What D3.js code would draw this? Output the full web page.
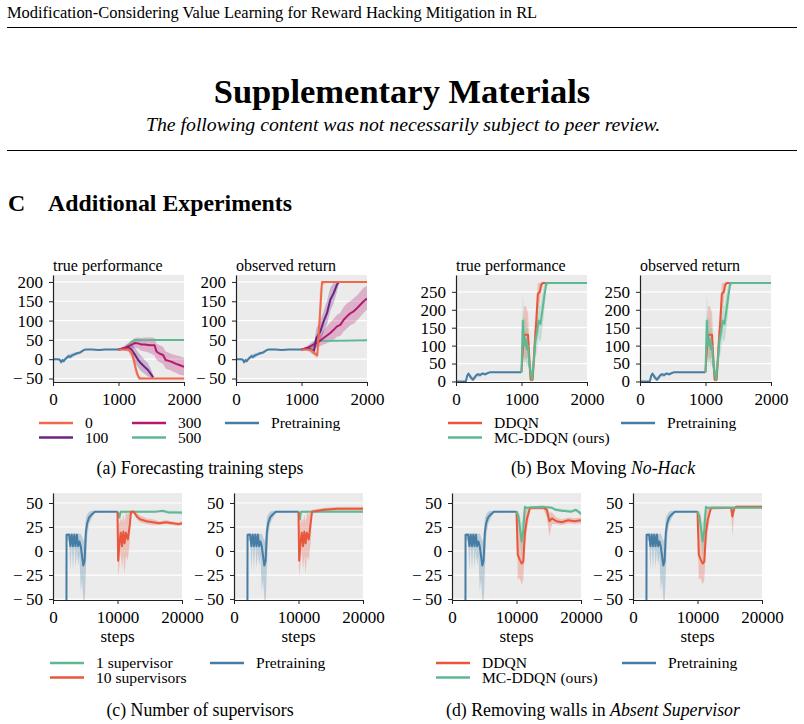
<!DOCTYPE html>
<html>
<head>
<meta charset="utf-8">
<script src="https://cdn.jsdelivr.net/npm/d3@7"></script>
<style>
  body { margin: 0; background: #fff; }
  svg { font-family: 'Liberation Serif', 'Times New Roman', serif; }
</style>
</head>
<body>
<svg id="fig" width="804" height="724"></svg>
<script>
// each point: [step, mean, lower, upper]

// (a) forecasting training steps
const aPretrain = [[0,0,-1,1],[60,0,-1,1],[100,-1,-4,2],[125,-8,-12,-3],[145,-2,-6,3],[165,-5,-9,0],[185,0,-4,5],[210,4,-1,9],[235,8,2,14],[260,6,0,12],[290,10,4,16],[320,12,7,17],[350,14,10,18],[380,16,12,20],[410,17,13,21],[440,20,17,24],[470,24,22,26],[500,25,24,26],[600,25,24,26],[700,24,23,25],[800,25,24,26],[900,25,24,26],[1000,25,24,26]]
const aTrue0 = [[1000,25,25,25],[1100,25,22,28],[1150,26,20,32],[1200,18,5,30],[1230,0,-15,15],[1260,-22,-38,-6],[1290,-40,-50,-28],[1320,-50,-52,-44],[1400,-50,-51,-49],[2000,-50,-50,-50]]
const aTrue100 = [[1000,25,25,25],[1100,27,22,32],[1150,30,20,40],[1200,24,8,38],[1250,12,-8,30],[1300,-2,-22,18],[1350,-12,-32,8],[1400,-20,-38,-2],[1450,-28,-45,-10],[1500,-40,-50,-28],[1530,-47,-50,-40]]
const aTrue300 = [[1000,25,25,25],[1100,30,24,36],[1200,37,26,48],[1250,42,30,54],[1300,41,28,56],[1350,38,22,55],[1400,38,20,56],[1450,37,18,56],[1500,36,14,56],[1550,36,10,55],[1580,20,-2,40],[1630,14,-8,36],[1680,11,-12,32],[1720,-2,-24,20],[1780,-5,-28,16],[1830,-8,-32,12],[1880,-12,-36,10],[1930,-15,-40,8],[2000,-20,-42,4]]
const aTrue500 = [[1000,25,25,25],[1100,28,25,32],[1150,35,30,40],[1200,45,41,49],[1250,50,48,52],[1400,49,48,50],[1500,50,50,50],[2000,50,50,50]]
const aObs0 = [[1000,25,25,25],[1100,25,22,28],[1150,24,18,30],[1200,15,8,22],[1240,10,2,18],[1280,110,40,180],[1313,200,190,200],[1400,200,200,200],[2000,200,200,200]]
const aObs100 = [[1000,25,25,25],[1100,28,22,34],[1190,22,10,35],[1226,55,30,80],[1288,72,45,100],[1338,98,70,125],[1389,119,90,150],[1440,154,125,185],[1491,171,145,198],[1542,193,175,200],[1565,198,190,200]]
const aObs300 = [[1000,25,25,25],[1100,30,24,36],[1200,40,30,50],[1240,42,30,55],[1338,55,38,75],[1440,68,45,95],[1491,76,50,105],[1542,85,58,115],[1593,89,60,120],[1644,102,72,135],[1695,111,80,145],[1746,119,88,150],[1797,124,92,158],[1847,132,100,165],[1898,141,110,175],[1949,150,120,185],[2000,157,128,190]]
const aObs500 = [[1000,25,25,25],[1084,26,23,29],[1160,33,28,38],[1211,46,42,50],[1300,48,47,49],[1500,48,47,49],[2000,49,48,50]]

// (b) box moving no-hack
const bPretrain = [[0,0,0,0],[150,0,-1,2],[170,15,8,20],[190,22,16,26],[230,10,4,18],[260,5,0,12],[300,15,8,20],[330,20,14,24],[370,18,12,22],[400,22,18,25],[450,20,16,24],[480,23,20,26],[520,26,25,27],[600,26,26,26],[1000,26,26,26]]
const bDdqn = [[1000,26,26,26],[1020,90,50,140],[1040,130,70,210],[1070,130,60,210],[1100,130,70,190],[1120,60,20,110],[1140,5,0,30],[1170,5,0,40],[1200,100,50,150],[1230,180,130,230],[1250,245,200,275],[1280,250,220,275],[1300,270,250,278],[1330,275,270,278],[1400,275,275,275],[2000,275,275,275]]
const bMcDdqn = [[1000,26,26,26],[1020,170,100,250],[1040,100,40,170],[1060,120,60,180],[1080,90,40,150],[1100,100,50,150],[1120,50,10,100],[1140,20,0,60],[1160,5,0,30],[1190,60,20,110],[1210,110,60,160],[1240,140,90,190],[1260,170,120,215],[1290,160,110,210],[1320,200,150,250],[1350,240,200,270],[1380,275,265,278],[1450,275,275,275],[2000,275,275,275]]

// (c) and (d) share the pretraining curve
const cdPretrain = [[2060,-200,-200,-200],[2100,17,12,18],[2500,17,10,19],[2700,5,-20,18],[2900,17,5,19],[3100,5,-20,18],[3300,17,5,19],[3500,5,-18,18],[3700,17,0,19],[3900,5,-15,18],[4100,10,-5,18],[4300,5,-42,18],[4500,-5,-30,15],[4700,-15,-50,10],[4900,-10,-55,15],[5100,20,-20,35],[5300,29,15,38],[5600,35,28,41],[6000,38,34,42],[6500,41,40,42],[10000,41,41,41]]
const cOneLeft = [[10000,41,41,41],[10300,35,32,40],[10500,41,39,42],[12000,41,40,42],[14000,41,40,42],[16000,41,40,42],[17000,42,40,43],[18000,40,39,42],[19000,40,39,42],[20000,40,38,41]]
const cTenLeft = [[10000,41,41,41],[10100,-10,-27,25],[10300,8,-15,30],[10500,19,0,35],[10700,5,-20,30],[10900,20,-5,38],[11100,8,-25,30],[11300,19,-5,40],[11600,12,-10,38],[11900,27,10,41],[12100,41,38,42],[12500,41,39,42],[13000,36,33,40],[13500,33,30,37],[14500,31,28,34],[15500,30,27,33],[16500,29,27,31],[17500,30,28,32],[18500,29,27,31],[19500,28,26,30],[20000,29,27,31]]
const cOneRight = [[10000,41,41,41],[10200,33,30,38],[10400,41,40,42],[12000,41,40,42],[20000,41,40,42]]
const cTenRight = [[10000,41,41,41],[10100,-10,-27,25],[10300,8,-15,30],[10500,19,0,35],[10700,5,-20,30],[10900,20,-5,38],[11100,8,-25,30],[11300,19,-5,40],[11600,12,-10,38],[11900,30,10,41],[12100,41,39,43],[13000,42,40,44],[14000,43,41,45],[16000,44,42,46],[18000,44,42,46],[20000,44,42,46]]
const dDdqnLeft = [[10000,41,41,41],[10200,-4,-30,30],[10500,-9,-28,25],[10800,-13,-35,15],[11050,-11,-30,20],[11300,19,0,40],[11600,33,20,45],[12100,45,43,46],[14200,45,43,46],[14700,43,35,46],[15100,31,15,40],[15500,34,28,40],[16200,31,28,35],[17000,30,27,33],[18000,32,29,35],[19000,31,28,34],[20000,32,29,35]]
const dMcLeft = [[10000,41,41,41],[10300,36,30,42],[10500,26,15,38],[10800,10,-5,28],[11050,22,5,40],[11300,46,42,47],[11600,45,44,46],[14000,46,45,47],[15500,45,44,46],[16000,43,42,45],[17000,42,41,44],[18500,41,40,43],[19200,43,41,44],[19800,40,38,42],[20000,38,36,41]]
const dDdqnRight = [[10000,41,41,41],[10200,-4,-30,30],[10500,-9,-28,25],[10800,-13,-35,15],[11050,-11,-30,20],[11300,19,0,40],[11600,33,20,45],[12100,45,43,46],[15200,45,44,46],[15400,36,15,46],[15700,45,40,46],[16000,46,45,47],[20000,46,45,47]]
const dMcRight = [[10000,41,41,41],[10300,36,30,42],[10500,26,15,38],[10800,10,-5,28],[11050,22,5,40],[11300,46,42,47],[11600,45,44,46],[20000,45,44,46]]

const ticksShort = [0, 1000, 2000]
const ticksLong = [0, 10000, 20000]
const ticksA = [-50, 0, 50, 100, 150, 200]
const ticksB = [0, 50, 100, 150, 200, 250]
const ticksCD = [-50, -25, 0, 25, 50]

const colors = {
  pre: '#467da5',
  red: '#e8573c',
  green: '#5eb892',
  s0: '#f0694b',
  s100: '#6e2382',
  s300: '#b4196e',
  s500: '#5eb892'
}

const svg = d3.select('#fig')
let clipCount = 0

// wide TeX-like minus sign
const tickFmt = d => (d < 0 ? '\u2212\u2009' + Math.abs(d) : String(d))

function drawPanel(p) {
  const x = d3.scaleLinear().domain(p.xDomain).range([p.left, p.right])
  const y = d3.scaleLinear().domain(p.yDomain).range([p.bottom, p.top])
  const clipId = 'clip' + clipCount++

  svg.append('clipPath').attr('id', clipId)
    .append('rect')
    .attr('x', p.left).attr('y', p.top)
    .attr('width', p.right - p.left).attr('height', p.bottom - p.top)

  svg.append('rect')
    .attr('x', p.left).attr('y', p.top)
    .attr('width', p.right - p.left).attr('height', p.bottom - p.top)
    .attr('fill', '#ebebeb')

  svg.append('g')
    .selectAll('line')
    .data(p.yTicks)
    .enter()
    .append('line')
    .attr('x1', p.left).attr('x2', p.right)
    .attr('y1', d => y(d)).attr('y2', d => y(d))
    .attr('stroke', '#fff').attr('stroke-width', 1.2)

  const plot = svg.append('g').attr('clip-path', `url(#${clipId})`)

  const area = d3.area().x(d => x(d[0])).y0(d => y(d[2])).y1(d => y(d[3]))
  const line = d3.line().x(d => x(d[0])).y(d => y(d[1]))

  plot.selectAll('.band')
    .data(p.series)
    .enter()
    .append('path')
    .attr('class', 'band')
    .attr('d', d => area(d.values))
    .attr('fill', d => d.color)
    .attr('opacity', 0.28)

  plot.selectAll('.line')
    .data(p.series)
    .enter()
    .append('path')
    .attr('class', 'line')
    .attr('d', d => line(d.values))
    .attr('fill', 'none')
    .attr('stroke', d => d.color)
    .attr('stroke-width', 2)
    .attr('stroke-linejoin', 'round')

  const yAxis = svg.append('g')
    .attr('transform', `translate(${p.left},0)`)
    .call(d3.axisLeft(y).tickValues(p.yTicks).tickSize(4).tickSizeOuter(0).tickPadding(6).tickFormat(tickFmt))
  const xAxis = svg.append('g')
    .attr('transform', `translate(0,${p.bottom})`)
    .call(d3.axisBottom(x).tickValues(p.xTicks).tickSize(4).tickSizeOuter(0).tickPadding(7).tickFormat(tickFmt))

  ;[yAxis, xAxis].forEach(ax => {
    ax.attr('font-family', null).attr('font-size', 17)
    ax.selectAll('text').attr('fill', '#000')
    ax.selectAll('line').attr('stroke', '#222')
    ax.select('.domain').attr('stroke', '#222').attr('stroke-width', 1.2)
  })

  if (p.title) {
    svg.append('text')
      .attr('x', p.left).attr('y', p.top - 4)
      .attr('font-size', 16)
      .text(p.title)
  }
  if (p.xLabel) {
    svg.append('text')
      .attr('x', (p.left + p.right) / 2).attr('y', p.bottom + 42)
      .attr('text-anchor', 'middle')
      .attr('font-size', 17)
      .text(p.xLabel)
  }
}

function drawLegend(items) {
  const g = svg.append('g')
  items.forEach(it => {
    g.append('line')
      .attr('x1', it.x).attr('x2', it.x + 34)
      .attr('y1', it.y).attr('y2', it.y)
      .attr('stroke', it.color).attr('stroke-width', 2.4)
    g.append('text')
      .attr('x', it.x + 46).attr('y', it.y + 5)
      .attr('font-size', 15.6)
      .text(it.label)
  })
}

function caption(cx, cy, plain, italic) {
  const t = svg.append('text')
    .attr('x', cx).attr('y', cy)
    .attr('text-anchor', 'middle')
    .attr('font-size', 17.8)
  t.append('tspan').text(plain)
  if (italic) t.append('tspan').attr('font-style', 'italic').text(italic)
}

// page header
svg.append('text').attr('x', 7).attr('y', 18).attr('font-size', 16.45)
  .text('Modification-Considering Value Learning for Reward Hacking Mitigation in RL')
svg.append('line').attr('x1', 7).attr('x2', 797).attr('y1', 27.5).attr('y2', 27.5).attr('stroke', '#000')
svg.append('text').attr('x', 402).attr('y', 103).attr('text-anchor', 'middle')
  .attr('font-size', 34.5).attr('font-weight', 'bold').text('Supplementary Materials')
svg.append('text').attr('x', 403).attr('y', 131).attr('text-anchor', 'middle')
  .attr('font-size', 19.8).attr('font-style', 'italic')
  .text('The following content was not necessarily subject to peer review.')
svg.append('line').attr('x1', 7).attr('x2', 797).attr('y1', 150.5).attr('y2', 150.5).attr('stroke', '#000')
svg.append('text').attr('x', 8).attr('y', 211).attr('font-size', 23.8).attr('font-weight', 'bold').text('C')
svg.append('text').attr('x', 48).attr('y', 211).attr('font-size', 23.8).attr('font-weight', 'bold').text('Additional Experiments')

const rowTop = { top: 275, bottom: 382, xDomain: [0, 2000], xTicks: ticksShort }
const rowBottom = { top: 493, bottom: 600, xDomain: [0, 20000], xTicks: ticksLong, yDomain: [-51, 60.4], yTicks: ticksCD, xLabel: 'steps' }

// (a)
drawPanel(Object.assign({}, rowTop, {
  left: 53, right: 184, yDomain: [-59, 218], yTicks: ticksA, title: 'true performance',
  series: [
    { color: colors.pre, values: aPretrain },
    { color: colors.s500, values: aTrue500 },
    { color: colors.s300, values: aTrue300 },
    { color: colors.s100, values: aTrue100 },
    { color: colors.s0, values: aTrue0 }
  ]
}))
drawPanel(Object.assign({}, rowTop, {
  left: 236, right: 367, yDomain: [-59, 218], yTicks: ticksA, title: 'observed return',
  series: [
    { color: colors.pre, values: aPretrain },
    { color: colors.s500, values: aObs500 },
    { color: colors.s300, values: aObs300 },
    { color: colors.s100, values: aObs100 },
    { color: colors.s0, values: aObs0 }
  ]
}))

// (b)
drawPanel(Object.assign({}, rowTop, {
  left: 456, right: 587, yDomain: [-1.5, 297], yTicks: ticksB, title: 'true performance',
  series: [
    { color: colors.pre, values: bPretrain },
    { color: colors.red, values: bDdqn },
    { color: colors.green, values: bMcDdqn }
  ]
}))
drawPanel(Object.assign({}, rowTop, {
  left: 640, right: 771, yDomain: [-1.5, 297], yTicks: ticksB, title: 'observed return',
  series: [
    { color: colors.pre, values: bPretrain },
    { color: colors.red, values: bDdqn },
    { color: colors.green, values: bMcDdqn }
  ]
}))

// (c)
drawPanel(Object.assign({}, rowBottom, {
  left: 53, right: 182,
  series: [
    { color: colors.pre, values: cdPretrain },
    { color: colors.green, values: cOneLeft },
    { color: colors.red, values: cTenLeft }
  ]
}))
drawPanel(Object.assign({}, rowBottom, {
  left: 234, right: 363,
  series: [
    { color: colors.pre, values: cdPretrain },
    { color: colors.green, values: cOneRight },
    { color: colors.red, values: cTenRight }
  ]
}))

// (d)
drawPanel(Object.assign({}, rowBottom, {
  left: 452, right: 581,
  series: [
    { color: colors.pre, values: cdPretrain },
    { color: colors.red, values: dDdqnLeft },
    { color: colors.green, values: dMcLeft }
  ]
}))
drawPanel(Object.assign({}, rowBottom, {
  left: 633, right: 762,
  series: [
    { color: colors.pre, values: cdPretrain },
    { color: colors.red, values: dDdqnRight },
    { color: colors.green, values: dMcRight }
  ]
}))

// legends
drawLegend([
  { x: 39, y: 423, color: colors.s0, label: '0' },
  { x: 39, y: 437.5, color: colors.s100, label: '100' },
  { x: 132, y: 423, color: colors.s300, label: '300' },
  { x: 132, y: 437.5, color: colors.s500, label: '500' },
  { x: 225, y: 423, color: colors.pre, label: 'Pretraining' }
])
drawLegend([
  { x: 448, y: 423, color: colors.red, label: 'DDQN' },
  { x: 448, y: 437.5, color: colors.green, label: 'MC-DDQN (ours)' },
  { x: 621, y: 423, color: colors.pre, label: 'Pretraining' }
])
drawLegend([
  { x: 50, y: 663, color: colors.green, label: '1 supervisor' },
  { x: 50, y: 677.5, color: colors.red, label: '10 supervisors' },
  { x: 210, y: 663, color: colors.pre, label: 'Pretraining' }
])
drawLegend([
  { x: 436, y: 663, color: colors.red, label: 'DDQN' },
  { x: 436, y: 677.5, color: colors.green, label: 'MC-DDQN (ours)' },
  { x: 622, y: 663, color: colors.pre, label: 'Pretraining' }
])

caption(200, 474, '(a) Forecasting training steps')
caption(603, 474, '(b) Box Moving ', 'No-Hack')
caption(200, 716, '(c) Number of supervisors')
caption(593, 716, '(d) Removing walls in ', 'Absent Supervisor')
</script>
</body>
</html>
